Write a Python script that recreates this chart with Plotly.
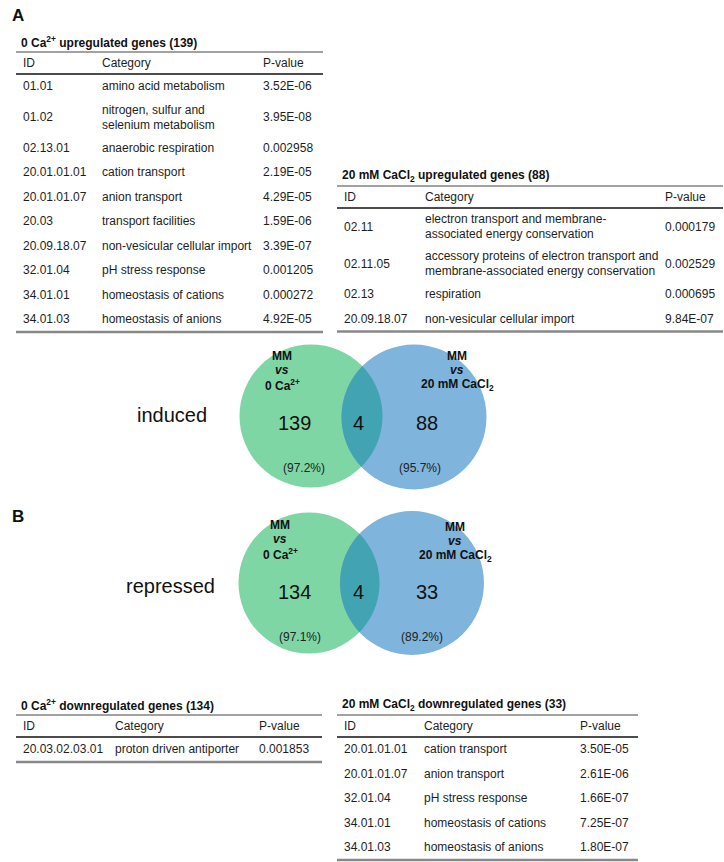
import math
import plotly.graph_objects as go

W, H = 724, 862
FONT = "Arial, 'Liberation Sans', sans-serif"
TXT = "#1e1e1e"

# ---------------- data ----------------
up0_title = "0 Ca<sup>2+</sup> upregulated genes (139)"
up0_ids = ["01.01", "01.02", "02.13.01", "20.01.01.01", "20.01.01.07", "20.03",
           "20.09.18.07", "32.01.04", "34.01.01", "34.01.03"]
up0_cats = ["amino acid metabolism", "nitrogen, sulfur and<br>selenium metabolism",
            "anaerobic respiration", "cation transport", "anion transport",
            "transport facilities", "non-vesicular cellular import", "pH stress response",
            "homeostasis of cations", "homeostasis of anions"]
up0_pvals = ["3.52E-06", "3.95E-08", "0.002958", "2.19E-05", "4.29E-05", "1.59E-06",
             "3.39E-07", "0.001205", "0.000272", "4.92E-05"]

up20_title = "20 mM CaCl<sub>2</sub> upregulated genes (88)"
up20_ids = ["02.11", "02.11.05", "02.13", "20.09.18.07"]
up20_cats = ["electron transport and membrane-<br>associated energy conservation",
             "accessory proteins of electron transport and<br>membrane-associated energy conservation",
             "respiration", "non-vesicular cellular import"]
up20_pvals = ["0.000179", "0.002529", "0.000695", "9.84E-07"]

down0_title = "0 Ca<sup>2+</sup> downregulated genes (134)"
down0_ids = ["20.03.02.03.01"]
down0_cats = ["proton driven antiporter"]
down0_pvals = ["0.001853"]

down20_title = "20 mM CaCl<sub>2</sub> downregulated genes (33)"
down20_ids = ["20.01.01.01", "20.01.01.07", "32.01.04", "34.01.01", "34.01.03"]
down20_cats = ["cation transport", "anion transport", "pH stress response",
               "homeostasis of cations", "homeostasis of anions"]
down20_pvals = ["3.50E-05", "2.61E-06", "1.66E-07", "7.25E-07", "1.80E-07"]

header = ["ID", "Category", "P-value"]

induced_counts = [139, 4, 88]
induced_pcts = ["(97.2%)", "(95.7%)"]
repressed_counts = [134, 4, 33]
repressed_pcts = ["(97.1%)", "(89.2%)"]
set_labels = [["MM", "vs", "0 Ca<sup>2+</sup>"],
              ["MM", "vs", "20 mM CaCl<sub>2</sub>"]]

GREEN = "#7fd6a5"
BLUE = "#7fb4dd"
OVER = "#42a4b3"

# ---------------- helpers ----------------
shapes = []
ann = []


def text(x, y, s, size=12, anchor="left", color=TXT, weight="normal", style="normal"):
    ann.append(dict(x=x, y=y, text=s, xref="x", yref="y", showarrow=False,
                    xanchor=anchor, yanchor="middle",
                    align="center" if anchor == "center" else "left",
                    font=dict(family=FONT, size=size, color=color, weight=weight, style=style)))


def hline(x0, x1, y, w, color):
    shapes.append(dict(type="line", x0=x0, x1=x1, y0=y, y1=y, xref="x", yref="y",
                       line=dict(color=color, width=w), layer="above"))


def table(title, ids, cats, pvals, left, right, top, colx):
    text(left + 3, top - 10, title, 12, color="#111", weight="bold")
    hline(left, right, top, 1, "#444")
    for cx, h in zip(colx, header):
        text(cx, top + 11, h)
    y = top + 22
    hline(left, right, y, 1.5, "#111")
    for i, c, p in zip(ids, cats, pvals):
        h = 37 if "<br>" in c else 24.5
        yc = y + h / 2
        text(colx[0], yc, i)
        lines = c.split("<br>")
        if len(lines) == 1:
            text(colx[1], yc, c)
        else:
            text(colx[1], yc - 7.5, lines[0])
            text(colx[1], yc + 7.5, lines[1])
        text(colx[2], yc, p)
        y += h
    hline(left, right, y + 0.5, 2.5, "#888")


def circle(cx, cy, r, color):
    shapes.append(dict(type="circle", xref="x", yref="y", x0=cx - r, x1=cx + r,
                       y0=cy - r, y1=cy + r, fillcolor=color, line=dict(width=0), layer="below"))


def lens(c1, c2, r1, r2, color):
    d = c2[0] - c1[0]
    t1 = math.acos((d * d + r1 * r1 - r2 * r2) / (2 * d * r1))
    t2 = math.acos((d * d + r2 * r2 - r1 * r1) / (2 * d * r2))
    pts = []
    n = 40
    for k in range(n + 1):
        a = -t1 + 2 * t1 * k / n
        pts.append((c1[0] + r1 * math.cos(a), c1[1] + r1 * math.sin(a)))
    for k in range(n + 1):
        a = math.pi - t2 + 2 * t2 * k / n
        pts.append((c2[0] + r2 * math.cos(a), c2[1] + r2 * math.sin(a)))
    path = "M " + " L ".join(f"{x:.2f},{y:.2f}" for x, y in pts) + " Z"
    shapes.append(dict(type="path", path=path, xref="x", yref="y", fillcolor=color,
                       line=dict(width=0), layer="below"))


def venn(name, counts, pcts, c1, c2, r1, r2, name_xy, count_x, count_dy, pct_x, pct_dy,
         lab_xy):
    circle(c1[0], c1[1], r1, GREEN)
    circle(c2[0], c2[1], r2, BLUE)
    lens(c1, c2, r1, r2, OVER)
    text(name_xy[0], name_xy[1], name, 20, anchor="center", color="#111")
    for cx, v in zip(count_x, counts):
        text(cx, c1[1] + count_dy, str(v), 20, anchor="center", color="#111")
    for px, v in zip(pct_x, pcts):
        text(px, c1[1] + pct_dy, v, 12, anchor="center", color="#222")
    for (lx, ly), lines in zip(lab_xy, set_labels):
        for k, s in enumerate(lines):
            text(lx, ly + (k - 1) * 14.5, s, 12, anchor="center", color="#111",
                 weight="bold", style="italic" if s == "vs" else "normal")


# ---------------- build ----------------
text(10, 15, "A", 17, color="#111", weight="bold")
text(10, 516, "B", 17, color="#111", weight="bold")

table(up0_title, up0_ids, up0_cats, up0_pvals, 16, 323, 52, [21, 100, 261])
table(up20_title, up20_ids, up20_cats, up20_pvals, 337, 723, 186, [342, 423, 663])
table(down0_title, down0_ids, down0_cats, down0_pvals, 16, 322, 715, [21, 113, 257])
table(down20_title, down20_ids, down20_cats, down20_pvals, 337, 638, 715, [342, 422, 578])

venn("induced", induced_counts, induced_pcts, (311, 416), (414, 417), 71.5, 72.5,
     (172, 415), [294, 358, 427], 7, [304, 420], 52, [(282, 370), (457, 370)])
venn("repressed", repressed_counts, repressed_pcts, (309, 583), (412, 583), 70.5, 72,
     (170, 586), [294, 358, 427], 9, [300, 422], 54, [(280, 539), (455, 541)])

fig = go.Figure()
fig.add_trace(go.Scatter(x=[0, W], y=[0, H], mode="markers", marker=dict(opacity=0),
                         hoverinfo="skip", showlegend=False))
fig.update_layout(
    width=W, height=H, margin=dict(l=0, r=0, t=0, b=0),
    paper_bgcolor="white", plot_bgcolor="white",
    xaxis=dict(range=[0, W], visible=False, fixedrange=True),
    yaxis=dict(range=[H, 0], visible=False, fixedrange=True),
    shapes=shapes, annotations=ann, showlegend=False,
)
fig.write_html("out.html", config={"displayModeBar": False},
               post_script="document.body.style.margin='0';document.body.style.overflow='hidden';")
